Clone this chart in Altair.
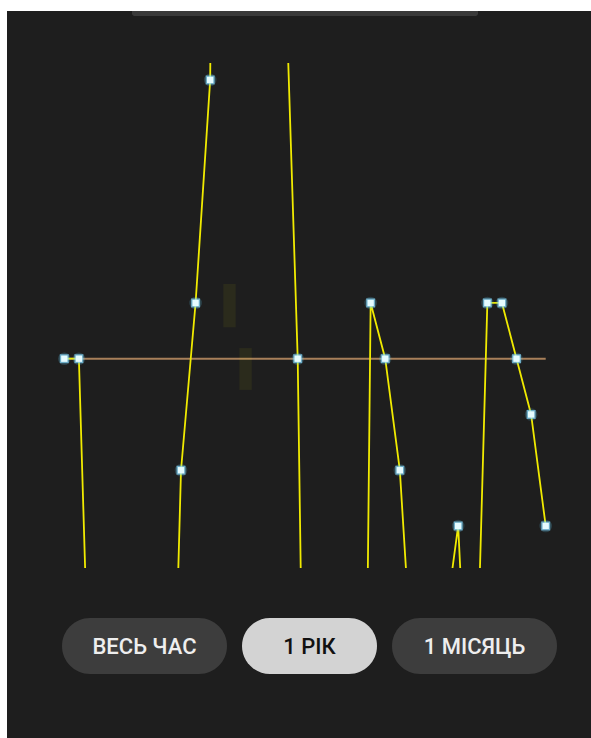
import altair as alt
import pandas as pd

# ---------------- data ----------------
step_index = list(range(34))
step_values = [0, 0, -8.8, -10, -12, -11, -13, -11.6, -2, 1, 5, 40, 30, 25, 20, 8.2,
               0, -18.3, -20, -18, -24, 1, 0, -2, -6.2, -5.5, -4.94, -3, -8.4,
               1, 1, 0, -1, -3]
reference_level = [0]
reference_span = [0, 33]
box_start = [10.90, 12.0]
box_end = [11.75, 12.85]
box_high = [1.34, 0.19]
box_low = [0.563, -0.56]
button_labels = ["ВЕСЬ ЧАС", "1 РІК", "1 МІСЯЦЬ"]
selected_label = "1 РІК"

# ---------------- layout ----------------
W, H = 510, 505
PAD_L, PAD_T, PAD_R, PAD_B = 50, 63, 31, 170

df = pd.DataFrame({"i": step_index, "v": step_values})
df_rule = pd.DataFrame({"i0": [reference_span[0]], "i1": [reference_span[1]], "v": reference_level})
df_box = pd.DataFrame({"b0": box_start, "b1": box_end, "hi": box_high, "lo": box_low})

x_scale = alt.Scale(domain=[0, 33], range=[14.3, 495.7], nice=False, zero=False)
y_scale = alt.Scale(domain=[-3.754, 5.304], nice=False, zero=False)

one = pd.DataFrame({"a": [0]})

# decoration: white page strips + top handle
strip_left = alt.Chart(one).mark_rect(color="#ffffff").encode(
    x=alt.value(-PAD_L), x2=alt.value(-PAD_L + 7), y=alt.value(-PAD_T), y2=alt.value(H + PAD_B))
strip_top = alt.Chart(one).mark_rect(color="#ffffff").encode(
    x=alt.value(-PAD_L), x2=alt.value(W + PAD_R), y=alt.value(-PAD_T), y2=alt.value(-PAD_T + 11))
handle = alt.Chart(one).mark_rect(color="#3a3a3a", cornerRadiusBottomLeft=5,
                                  cornerRadiusBottomRight=5).encode(
    x=alt.value(132 - PAD_L), x2=alt.value(478 - PAD_L), y=alt.value(11 - PAD_T), y2=alt.value(16 - PAD_T))

rule = alt.Chart(df_rule).mark_rule(color="#a8805a", strokeWidth=2).encode(
    x=alt.X("i0:Q", scale=x_scale, axis=None), x2="i1:Q",
    y=alt.Y("v:Q", scale=y_scale, axis=None))

line = alt.Chart(df).mark_line(color="#f0ea00", strokeWidth=1.8, clip=True).encode(
    x=alt.X("i:Q", scale=x_scale, axis=None),
    y=alt.Y("v:Q", scale=y_scale, axis=None))

boxes = alt.Chart(df_box).mark_rect(color="#ffff00", opacity=0.06).encode(
    x=alt.X("b0:Q", scale=x_scale, axis=None), x2="b1:Q",
    y=alt.Y("hi:Q", scale=y_scale, axis=None), y2="lo:Q")

enc = dict(x=alt.X("i:Q", scale=x_scale, axis=None),
           y=alt.Y("v:Q", scale=y_scale, axis=None))
halo = alt.Chart(df).mark_circle(color="#5ec8f2", size=160, opacity=0.2, clip=True).encode(**enc)
glow = alt.Chart(df).mark_square(color="#8adcff", size=80, opacity=0.7, clip=True).encode(**enc)
dots = alt.Chart(df).mark_square(color="#e6fcff", size=40, opacity=1, clip=True).encode(**enc)

# buttons (layout computed from label length)
bx = []
cur = 62 - PAD_L
for lab in button_labels:
    w = 85 + 10 * len(lab)
    bx.append((cur, cur + w))
    cur += w + 15
df_btn = pd.DataFrame({
    "label": button_labels,
    "x0": [a for a, b in bx],
    "x1": [b for a, b in bx],
    "xc": [(a + b) / 2 for a, b in bx],
    "sel": [lab == selected_label for lab in button_labels],
})
btn_rect = alt.Chart(df_btn).mark_rect(cornerRadius=28).encode(
    x=alt.X("x0:Q", scale=None, axis=None), x2="x1:Q",
    y=alt.value(618 - PAD_T), y2=alt.value(674 - PAD_T),
    color=alt.condition("datum.sel", alt.value("#d3d3d3"), alt.value("#3d3d3d")))
btn_text = alt.Chart(df_btn).mark_text(font="Roboto", fontSize=22, fontWeight=500,
                                       baseline="middle", align="center").encode(
    x=alt.X("xc:Q", scale=None, axis=None),
    y=alt.value(647 - PAD_T),
    text="label:N",
    color=alt.condition("datum.sel", alt.value("#111111"), alt.value("#eeeeee")))

chart = alt.layer(strip_left, strip_top, handle, rule, line, boxes, halo, glow, dots,
                  btn_rect, btn_text).properties(
    width=W, height=H,
    padding={"left": PAD_L, "top": PAD_T, "right": PAD_R, "bottom": PAD_B},
    autosize=alt.AutoSizeParams(type="none"),
).configure(background="#1e1e1e").configure_view(strokeWidth=0)

chart.save("out.html", embed_options={"renderer": "svg", "actions": False})
